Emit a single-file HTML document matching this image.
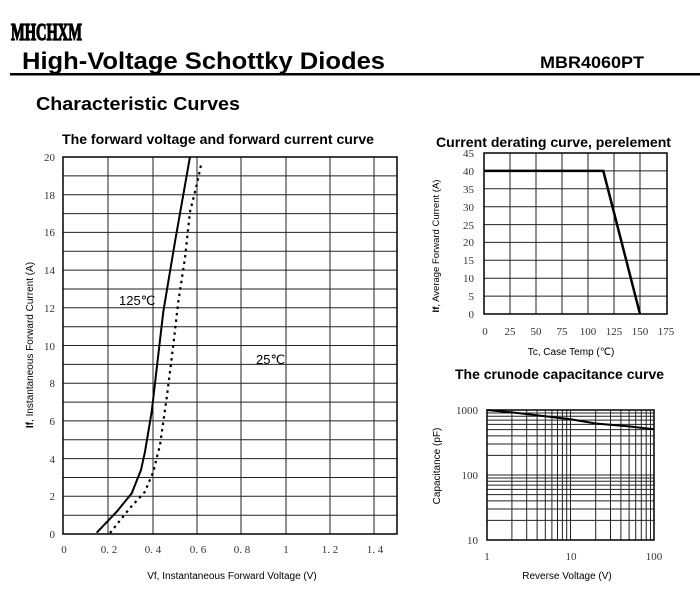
<!DOCTYPE html>
<html><head><meta charset="utf-8"><style>
body{margin:0;background:#fff;}
svg{display:block;font-family:"Liberation Sans",sans-serif;}
.s{font-family:"Liberation Serif",serif;font-size:11px;fill:#333;}
.g{stroke:#222;stroke-width:1;fill:none;}
.logo{font-family:"Liberation Serif",serif;font-weight:bold;}
</style></head><body>
<svg width="700" height="604" viewBox="0 0 700 604">
<text class="logo" x="11" y="40" font-size="24" stroke="#000" stroke-width="1.3" textLength="71" lengthAdjust="spacingAndGlyphs">MHCHXM</text>
<text x="22" y="69" font-weight="bold" font-size="24" textLength="363" lengthAdjust="spacingAndGlyphs">High-Voltage Schottky Diodes</text>
<text x="540" y="68" font-weight="bold" font-size="17" textLength="104" lengthAdjust="spacingAndGlyphs">MBR4060PT</text>
<rect x="10" y="73" width="690" height="2.5" fill="#000"/>
<text x="36" y="110" font-weight="bold" font-size="18" textLength="204" lengthAdjust="spacingAndGlyphs">Characteristic Curves</text>
<text x="62" y="144" font-weight="bold" font-size="14" textLength="312" lengthAdjust="spacingAndGlyphs">The forward voltage and forward current curve</text>
<text x="436" y="147" font-weight="bold" font-size="14" textLength="235" lengthAdjust="spacingAndGlyphs">Current derating curve, perelement</text>
<text x="455" y="379" font-weight="bold" font-size="14" textLength="209" lengthAdjust="spacingAndGlyphs">The crunode capacitance curve</text>

<g class="g">
<path d="M63 157H397M63 175.9H397M63 194.7H397M63 213.6H397M63 232.4H397M63 251.3H397M63 270.1H397M63 289H397M63 307.8H397M63 326.7H397M63 345.5H397M63 364.4H397M63 383.2H397M63 402.1H397M63 420.9H397M63 439.8H397M63 458.6H397M63 477.5H397M63 496.3H397M63 515.2H397M63 534H397"/>
<path d="M108 157V534M153 157V534M197 157V534M241 157V534M286 157V534M330 157V534M374 157V534"/>
</g>
<rect x="63" y="157" width="334" height="377" fill="none" stroke="#000" stroke-width="1.5"/>
<g class="s" text-anchor="end">
<text x="55" y="161">20</text><text x="55" y="199">18</text><text x="55" y="236">16</text><text x="55" y="274">14</text><text x="55" y="312">12</text><text x="55" y="350">10</text><text x="55" y="387">8</text><text x="55" y="425">6</text><text x="55" y="463">4</text><text x="55" y="500">2</text><text x="55" y="538">0</text>
</g>
<g class="s" text-anchor="middle">
<text x="64" y="553">0</text><text x="109" y="553">0. 2</text><text x="153" y="553">0. 4</text><text x="198" y="553">0. 6</text><text x="242" y="553">0. 8</text><text x="286" y="553">1</text><text x="330" y="553">1. 2</text><text x="375" y="553">1. 4</text>
</g>
<text x="232" y="579" font-size="10" text-anchor="middle">Vf, Instantaneous Forward Voltage (V)</text>
<text transform="translate(33,345) rotate(-90)" font-size="10" text-anchor="middle"><tspan font-weight="bold">If</tspan>, Instantaneous Forward Current (A)</text>
<text x="119" y="305" font-size="13">125℃</text>
<text x="256" y="364" font-size="13">25℃</text>
<polyline fill="none" stroke="#000" stroke-width="2" points="96.7,532.7 116.7,511.7 131.7,493.3 141,470 145,451.7 151.7,411.7 163.3,311.7 175,241.7 190,156.7"/>
<polyline fill="none" stroke="#000" stroke-width="2.2" stroke-dasharray="2.5,4" points="110,533 130,508 145,491.7 153.3,471.7 160,445 166.7,398 173.3,345 178.3,301.7 185,258 190,211.7 196.7,185 201.7,161.7"/>

<g class="g">
<path d="M484 170.9H667M484 188.8H667M484 206.7H667M484 224.6H667M484 242.4H667M484 260.3H667M484 278.2H667M484 296.1H667"/>
<path d="M510 153V314M536 153V314M562 153V314M588 153V314M614 153V314M640 153V314"/>
</g>
<rect x="484" y="153" width="183" height="161" fill="none" stroke="#000" stroke-width="1.5"/>
<g class="s" text-anchor="end">
<text x="474" y="157">45</text><text x="474" y="175">40</text><text x="474" y="193">35</text><text x="474" y="211">30</text><text x="474" y="229">25</text><text x="474" y="246">20</text><text x="474" y="264">15</text><text x="474" y="282">10</text><text x="474" y="300">5</text><text x="474" y="318">0</text>
</g>
<g class="s" text-anchor="middle">
<text x="485" y="335">0</text><text x="510" y="335">25</text><text x="536" y="335">50</text><text x="562" y="335">75</text><text x="588" y="335">100</text><text x="614" y="335">125</text><text x="640" y="335">150</text><text x="666" y="335">175</text>
</g>
<text x="571" y="355" font-size="10" text-anchor="middle">Tc, Case Temp (℃)</text>
<text transform="translate(439,246) rotate(-90)" font-size="9.5" text-anchor="middle"><tspan font-weight="bold">If</tspan>, Average Forward Current (A)</text>
<polyline fill="none" stroke="#000" stroke-width="2.5" points="484,170.9 603.3,170.9 640,314"/>

<g class="g">
<path d="M487 520.4H654M487 509H654M487 500.9H654M487 494.6H654M487 489.4H654M487 485.1H654M487 481.3H654M487 478H654M487 475H654M487 455.4H654M487 444H654M487 435.9H654M487 429.6H654M487 424.4H654M487 420.1H654M487 416.3H654M487 413H654"/>
<path d="M511.9 410V540M526.7 410V540M537.1 410V540M545.3 410V540M551.9 410V540M557.5 410V540M562.4 410V540M566.7 410V540M570.5 410V540M595.7 410V540M610.5 410V540M620.9 410V540M629.1 410V540M635.7 410V540M641.3 410V540M646.2 410V540M650.5 410V540"/>
</g>
<rect x="487" y="410" width="167" height="130" fill="none" stroke="#000" stroke-width="1.5"/>
<g class="s" text-anchor="end">
<text x="478" y="414">1000</text><text x="478" y="479">100</text><text x="478" y="544">10</text>
</g>
<g class="s" text-anchor="middle">
<text x="487" y="560">1</text><text x="571" y="560">10</text><text x="654" y="560">100</text>
</g>
<text x="567" y="579" font-size="10" text-anchor="middle">Reverse Voltage (V)</text>
<text transform="translate(440,466) rotate(-90)" font-size="10" text-anchor="middle">Capacitance (pF)</text>
<polyline fill="none" stroke="#000" stroke-width="2" points="486.7,410 511.9,412.4 545.3,416.3 570.5,419.3 595.7,423.5 629.1,426.4 654.3,429.3"/>
</svg>
</body></html>
